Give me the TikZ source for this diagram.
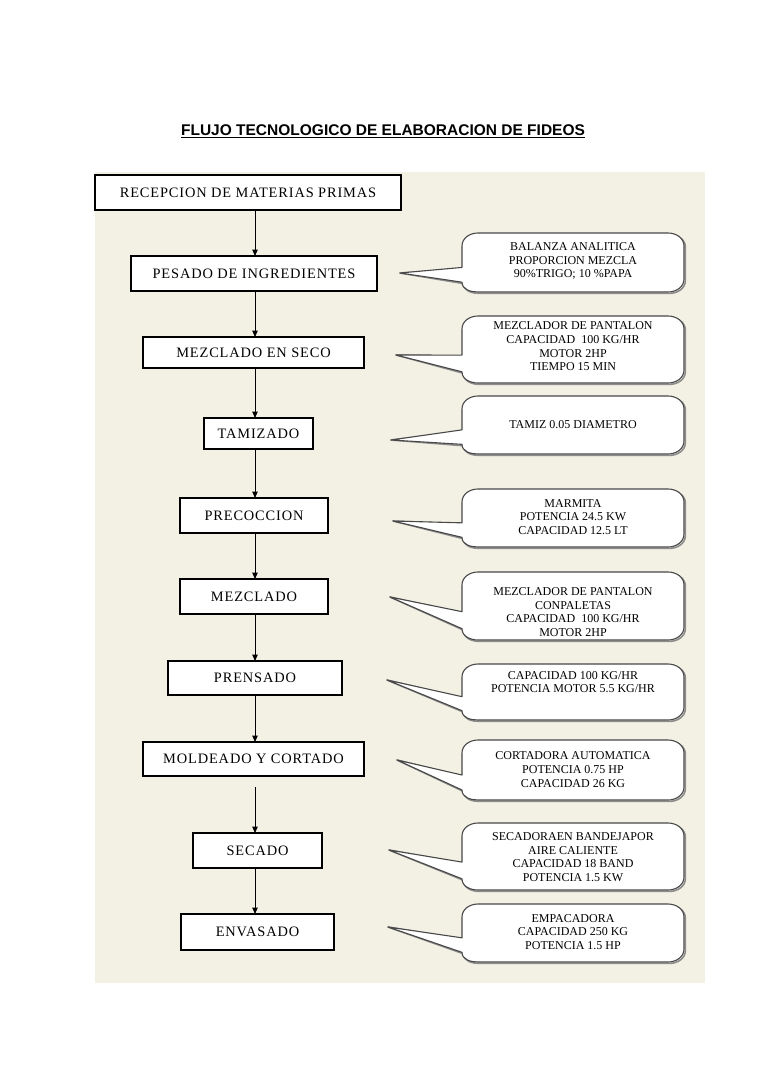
\documentclass[tikz,border=0pt]{standalone}
\usepackage{fontspec}
\setmainfont{Liberation Serif}
\newfontfamily\titlefont{Liberation Sans}
\newfontfamily\boxfont[LetterSpace=6]{Liberation Serif}
\usetikzlibrary{arrows.meta}
\definecolor{bg}{RGB}{243,241,228}
\definecolor{cline}{RGB}{72,72,72}
\tikzset{
  stepbox/.style={draw=black, line width=1.1pt, fill=white, inner sep=0pt, outer sep=0pt,
    font=\boxfont\fontsize{14.4}{16}\selectfont},
  flow/.style={draw=black, line width=1pt, -{Triangle[length=6.5pt,width=5.5pt]}},
  calltext/.style={align=center, inner sep=0pt, font=\fontsize{12}{13.7}\selectfont},
  callbody/.style={draw=cline, line width=1.1pt, fill=white, line join=round},
  callshadow/.style={draw=black!45, line width=1.6pt, line join=round},
}
\newcommand\callshape[3]{%
  \pgfmathsetmacro\cyt{#1+(#2-#1)*7/12}%
  \pgfmathsetmacro\cyb{#1+(#2-#1)*10/12}%
  \draw[callshadow, shift={(1.4,1.4)}] (462,{#1+13}) to[out=90,in=180] (478,#1) -- (668,#1)
    to[out=0,in=90] (684,{#1+13}) -- (684,{#2-13}) to[out=-90,in=0] (668,#2) -- (478,#2)
    to[out=180,in=-90] (462,\cyb) -- (#3) -- (462,\cyt) -- cycle;
  \draw[callbody] (462,{#1+13}) to[out=90,in=180] (478,#1) -- (668,#1)
    to[out=0,in=90] (684,{#1+13}) -- (684,{#2-13}) to[out=-90,in=0] (668,#2) -- (478,#2)
    to[out=180,in=-90] (462,\cyb) -- (#3) -- (462,\cyt) -- cycle;
}
\begin{document}
\begin{tikzpicture}[x=1pt,y=-1pt]
\useasboundingbox (0,0) rectangle (768,1087);
\fill[bg] (95,172) rectangle (705,983);

\node[inner sep=0pt, font=\titlefont\bfseries\fontsize{15.5}{17}\selectfont] (title) at (383,131)
  {\underline{FLUJO TECNOLOGICO DE ELABORACION DE FIDEOS}};

% process boxes
\node[stepbox, minimum width=306pt, minimum height=35pt] (rec) at (248,192.5) {RECEPCION DE MATERIAS PRIMAS};
\node[stepbox, minimum width=246pt, minimum height=35pt] (pes) at (254,273.5) {PESADO DE INGREDIENTES};
\node[stepbox, minimum width=221pt, minimum height=31pt] (mse) at (253.5,352.5) {MEZCLADO EN SECO};
\node[stepbox, minimum width=109pt, minimum height=31pt] (tam) at (258.5,433.5) {TAMIZADO};
\node[stepbox, minimum width=148pt, minimum height=35pt] (pre) at (254,515.5) {PRECOCCION};
\node[stepbox, minimum width=148pt, minimum height=35pt] (mez) at (254,596.5) {MEZCLADO};
\node[stepbox, minimum width=174pt, minimum height=34pt] (pren) at (255,678) {PRENSADO};
\node[stepbox, minimum width=221pt, minimum height=34pt] (mol) at (253.5,759) {MOLDEADO Y CORTADO};
\node[stepbox, minimum width=129pt, minimum height=35pt] (sec) at (257.5,850.5) {SECADO};
\node[stepbox, minimum width=153pt, minimum height=36pt] (env) at (257.5,932) {ENVASADO};

% flow arrows
\coordinate (ax) at (255,0);
\draw[flow] (rec.south -| ax) -- (pes.north -| ax);
\draw[flow] (pes.south -| ax) -- (mse.north -| ax);
\draw[flow] (mse.south -| ax) -- (tam.north -| ax);
\draw[flow] (tam.south -| ax) -- (pre.north -| ax);
\draw[flow] (pre.south -| ax) -- (mez.north -| ax);
\draw[flow] (mez.south -| ax) -- (pren.north -| ax);
\draw[flow] (pren.south -| ax) -- (mol.north -| ax);
\draw[flow, shorten <=11pt] (mol.south -| ax) -- (sec.north -| ax);
\draw[flow] (sec.south -| ax) -- (env.north -| ax);

% callout tips
\coordinate (t1) at (400,273);
\coordinate (t2) at (396,355);
\coordinate (t3) at (391,440);
\coordinate (t4) at (393,521);
\coordinate (t5) at (390,597);
\coordinate (t6) at (387,680);
\coordinate (t7) at (397,760);
\coordinate (t8) at (389,850);
\coordinate (t9) at (388,927);

\callshape{233}{292}{t1}
\callshape{316}{383}{t2}
\callshape{396}{454}{t3}
\callshape{489}{547}{t4}
\callshape{572}{640}{t5}
\callshape{664}{720}{t6}
\callshape{740}{800}{t7}
\callshape{823}{890}{t8}
\callshape{904}{962}{t9}

\node[calltext] (c1) at (573,261) {BALANZA ANALITICA\\PROPORCION MEZCLA\\90\%TRIGO; 10 \%PAPA};
\node[calltext] (c2) at (573,346.5) {MEZCLADOR DE PANTALON\\CAPACIDAD\ \ 100 KG/HR\\MOTOR 2HP\\TIEMPO 15 MIN};
\node[calltext] (c3) at (573,425) {TAMIZ 0.05 DIAMETRO};
\node[calltext] (c4) at (573,517) {MARMITA\\POTENCIA 24.5 KW\\CAPACIDAD 12.5 LT};
\node[calltext] (c5) at (573,612) {MEZCLADOR DE PANTALON\\CONPALETAS\\CAPACIDAD\ \ 100 KG/HR\\MOTOR 2HP};
\node[calltext] (c6) at (573,682) {CAPACIDAD 100 KG/HR\\POTENCIA MOTOR 5.5 KG/HR};
\node[calltext] (c7) at (573,769.5) {CORTADORA AUTOMATICA\\POTENCIA 0.75 HP\\CAPACIDAD 26 KG};
\node[calltext] (c8) at (573,857) {SECADORAEN BANDEJAPOR\\AIRE CALIENTE\\CAPACIDAD 18 BAND\\POTENCIA 1.5 KW};
\node[calltext] (c9) at (573,932) {EMPACADORA\\CAPACIDAD 250 KG\\POTENCIA 1.5 HP};
\end{tikzpicture}
\end{document}
